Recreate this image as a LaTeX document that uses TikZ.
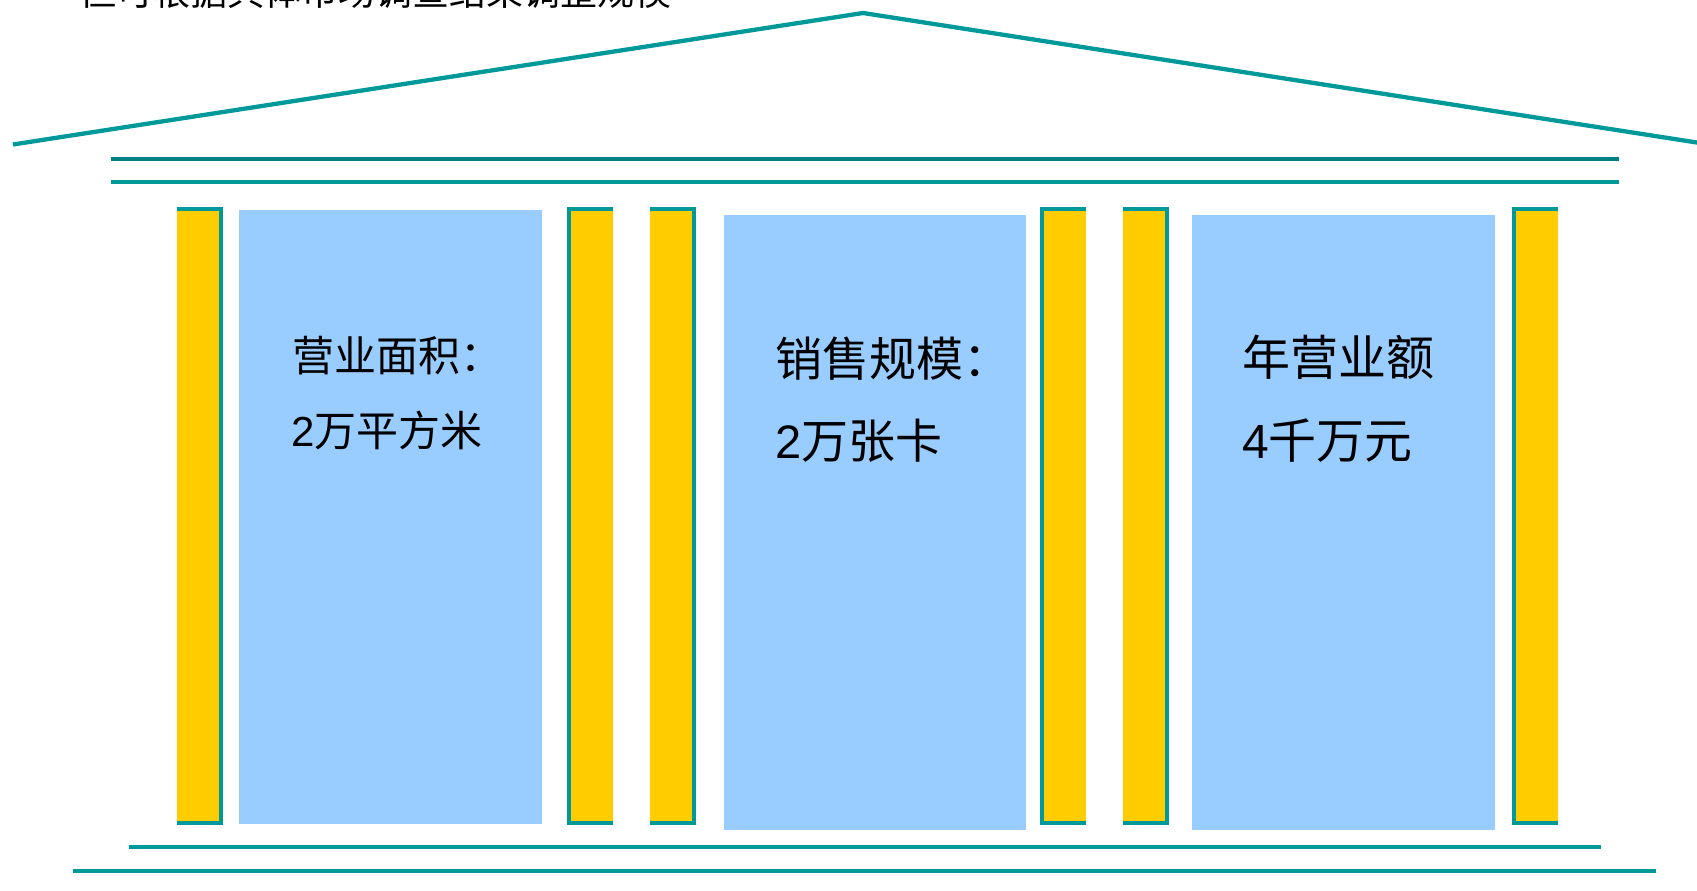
\documentclass[tikz,border=0pt]{standalone}
\usepackage{fontspec}
\setmainfont{Liberation Sans}
\newfontfamily\cjk{Noto Sans CJK SC}
\definecolor{tealA}{HTML}{009999}
\definecolor{tealB}{HTML}{008080}
\definecolor{pillarfill}{HTML}{FFCC00}
\definecolor{panelfill}{HTML}{99CCFF}
\tikzset{
  roofline/.style={draw=tealA, line width=4.3pt, line join=miter},
  beamA/.style={draw=tealB, line width=4pt},
  beamB/.style={draw=tealA, line width=4pt},
  pillaredge/.style={draw=tealA, line width=4pt, line join=miter},
  panel/.style={fill=panelfill},
  label/.style={anchor=base west, inner sep=0pt, text=black},
}
\begin{document}
\begin{tikzpicture}[x=1pt,y=-1pt]
\useasboundingbox (0,0) rectangle (1697,891);
% roof
\coordinate (roofL) at (13,144.5);
\coordinate (roofT) at (863,13);
\coordinate (roofR) at (1700,143);
\draw[roofline] (roofL) -- (roofT) -- (roofR);
% top beams
\coordinate (b1a) at (111,158.7); \coordinate (b1b) at (1619,158.7);
\coordinate (b2a) at (111,181.7); \coordinate (b2b) at (1619,181.7);
\draw[beamA] (b1a) -- (b1b);
\draw[beamB] (b2a) -- (b2b);
% bottom beams
\coordinate (b3a) at (129,846.7); \coordinate (b3b) at (1601,846.7);
\coordinate (b4a) at (72.5,871.3); \coordinate (b4b) at (1656,871.3);
\draw[beamB] (b3a) -- (b3b);
\draw[beamB] (b4a) -- (b4b);
% panels
\fill[panel] (239,210) rectangle (542,824);
\fill[panel] (724,215) rectangle (1026,830);
\fill[panel] (1192,215) rectangle (1495,830);
% pillars: edge on right
\foreach \x in {176.7,649.5,1122.5}{
  \fill[pillarfill] (\x,206.5) rectangle (\x+46,825);
  \draw[pillaredge] (\x,208.5) -- (\x+44,208.5) -- (\x+44,823) -- (\x,823);
}
% pillars: edge on left
\foreach \x in {567,1039.5,1512}{
  \fill[pillarfill] (\x,206.5) rectangle (\x+46,825);
  \draw[pillaredge] (\x+46,208.5) -- (\x+2,208.5) -- (\x+2,823) -- (\x+46,823);
}
% texts
\node[label] (top) at (79,6) {\cjk\fontsize{37}{44}\selectfont 但可根据具体市场调查结果调整规模};
\node[label] (t1a) at (292,371) {\cjk\fontsize{42}{50}\selectfont 营业面积：};
\node[label] (t1b) at (291,446) {\fontsize{42}{50}\selectfont 2{\cjk 万平方米}};
\node[label] (t2a) at (775,376) {\cjk\fontsize{47}{56}\selectfont 销售规模：};
\node[label] (t2b) at (775,458) {\fontsize{47}{56}\selectfont 2{\cjk 万张卡}};
\node[label] (t3a) at (1242,375) {\cjk\fontsize{48}{57}\selectfont 年营业额};
\node[label] (t3b) at (1242,458) {\fontsize{48}{57}\selectfont 4{\cjk 千万元}};
\end{tikzpicture}
\end{document}
